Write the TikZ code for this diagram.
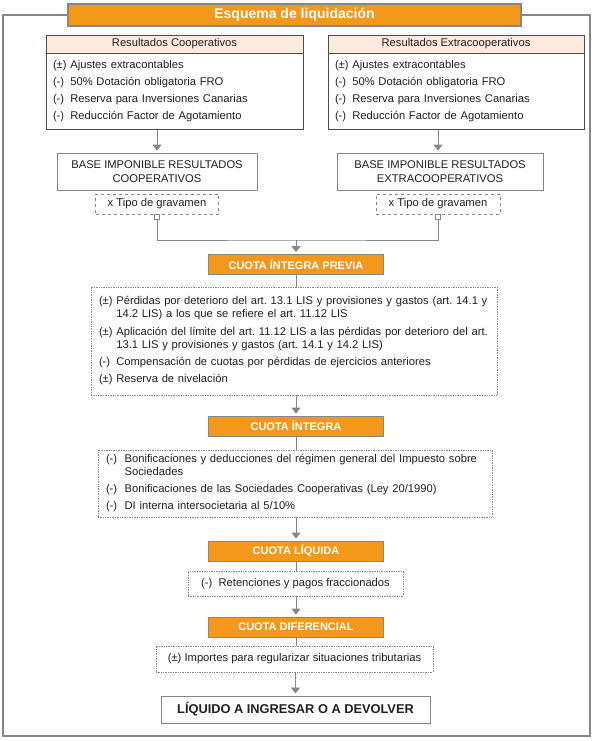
\documentclass[tikz,border=0pt]{standalone}
\usepackage{fontspec}
\setmainfont{Liberation Sans}
\usetikzlibrary{positioning,arrows.meta,calc}
\definecolor{naranja}{RGB}{243,152,26}
\definecolor{rosado}{RGB}{252,234,222}
\definecolor{gris}{RGB}{135,135,135}
\definecolor{tinta}{RGB}{35,31,32}
\frenchspacing
\begin{document}
\begin{tikzpicture}[x=1pt,y=1pt]
    \tikzstyle{every node}=[inner sep=0,text=tinta,font=\fontsize{11.2}{12.5}\selectfont]
    \tikzstyle{head}=[draw=tinta!80,fill=rosado,minimum height=18,line width=0.6]
    \tikzstyle{list}=[draw=tinta!80,line width=0.6,align=left,inner xsep=7,inner ysep=4,text width=243,minimum height=76]
    \tikzstyle{base}=[draw=gris,line width=0.7,align=center,minimum height=37,font=\fontsize{11.2}{14}\selectfont]
    \tikzstyle{rate}=[draw=gris,dashed,line width=0.6,minimum height=20]
    \tikzstyle{sq}=[draw=gris,fill=white,line width=0.6,minimum size=5]
    \tikzstyle{tab}=[draw=gris,line width=0.8,fill=naranja,text=white,minimum width=175,minimum height=20,font=\bfseries\fontsize{11}{12}\selectfont]
    \tikzstyle{dots}=[draw=gris,densely dotted,line width=0.7,align=left]
    \tikzstyle{final}=[draw=gris,line width=1,minimum width=269,minimum height=27,font=\bfseries\fontsize{12.8}{14}\selectfont]
    \tikzstyle{line}=[draw=gris,line width=0.8]
    \tikzstyle{arr}=[line,-{Triangle[width=9,length=6]},shorten >=2]
    \useasboundingbox (0,0) rectangle (594,-741);

    % marco y titulo
    \draw[gris,line width=1.4] (3,-15) rectangle (590,-736);
    \node[draw=gris,line width=1.6,fill=naranja,text=white,minimum width=453,minimum height=22,
          font=\bfseries\fontsize{14}{15}\selectfont] (title) at (294.5,-15) {Esquema de liquidación};

    % resultados
    \node[head,minimum width=257] (rch) at (174.5,-44) {Resultados Cooperativos};
    \node[list,below=0 of rch] (rcb) {%
        \begin{tabular}{@{}l@{\ }l@{}}
        (±) & Ajustes extracontables\\[4.5pt]
        (-) & 50\% Dotación obligatoria FRO\\[4.5pt]
        (-) & Reserva para Inversiones Canarias\\[4.5pt]
        (-) & Reducción Factor de Agotamiento
        \end{tabular}};
    \node[head,minimum width=256] (reh) at (456,-44) {Resultados Extracooperativos};
    \node[list,below=0 of reh,text width=242] (reb) {%
        \begin{tabular}{@{}l@{\ }l@{}}
        (±) & Ajustes extracontables\\[4.5pt]
        (-) & 50\% Dotación obligatoria FRO\\[4.5pt]
        (-) & Reserva para Inversiones Canarias\\[4.5pt]
        (-) & Reducción Factor de Agotamiento
        \end{tabular}};

    % bases imponibles
    \node[base,minimum width=200] (bic) at (157,-171.5) {BASE IMPONIBLE RESULTADOS\\COOPERATIVOS};
    \node[base,minimum width=206] (bie) at (440,-171.5) {BASE IMPONIBLE RESULTADOS\\EXTRACOOPERATIVOS};
    \node[rate,minimum width=123] (tgc) at (157,-204) {x Tipo de gravamen};
    \node[rate,minimum width=124] (tge) at (438,-204) {x Tipo de gravamen};
    \node[sq,below=0 of tgc] (sqc) {};
    \node[sq,below=0 of tge] (sqe) {};
    \coordinate (merge) at (296,-240);

    % columna central
    \node[tab] (cip) at (296,-264.5) {CUOTA ÍNTEGRA PREVIA};
    \node[dots,minimum width=406,minimum height=108,text width=390,inner xsep=8] (ajc) at (294,-341) {%
        \begin{tabular}{@{}l@{\ }l@{}}
        (±) & Pérdidas por deterioro del art. 13.1 LIS y provisiones y gastos (art. 14.1 y\\
            & 14.2 LIS) a los que se refiere el art. 11.12 LIS\\[6pt]
        (±) & Aplicación del límite del art. 11.12 LIS a las pérdidas por deterioro del art.\\
            & 13.1 LIS y provisiones y gastos (art. 14.1 y 14.2 LIS)\\[5pt]
        (-) & Compensación de cuotas por pérdidas de ejercicios anteriores\\[4pt]
        (±) & Reserva de nivelación
        \end{tabular}};
    \node[tab] (ci) at (296,-426) {CUOTA ÍNTEGRA};
    \node[dots,minimum width=394,minimum height=67,text width=378,inner xsep=8] (bon) at (295,-483.5) {%
        \raisebox{-3pt}{\begin{tabular}{@{}l@{\ \ }l@{}}
        (-) & Bonificaciones y deducciones del régimen general del Impuesto sobre\\
            & Sociedades\\[4.5pt]
        (-) & Bonificaciones de las Sociedades Cooperativas (Ley 20/1990)\\[4.5pt]
        (-) & DI interna intersocietaria al 5/10\%
        \end{tabular}}};
    \node[tab] (cl) at (296,-551) {CUOTA LÍQUIDA};
    \node[dots,minimum width=215,minimum height=25] (ret) at (295.5,-583.5) {(-)\ \ Retenciones y pagos fraccionados};
    \node[tab] (cd) at (296,-627) {CUOTA DIFERENCIAL};
    \node[dots,minimum width=277,minimum height=26] (imp) at (294.5,-659) {(±) Importes para regularizar situaciones tributarias};
    \node[final] (liq) at (295.5,-709.5) {LÍQUIDO A INGRESAR O A DEVOLVER};

    % conectores
    \draw[arr] (rcb.south -| tgc) -- (bic.north -| tgc);
    \draw[arr] (reb.south -| tge) -- (bie.north -| tge);
    \draw[line] (sqc.south) |- (merge) -| (sqe.south);
    \draw[arr] (merge) -- (cip.north);
    \draw[line] (cip.south) -- (cip.south |- ajc.north);
    \draw[arr] (ajc.south -| ci) -- (ci.north);
    \draw[line] (ci.south) -- (ci.south |- bon.north);
    \draw[arr] (bon.south -| cl) -- (cl.north);
    \draw[line] (cl.south) -- (cl.south |- ret.north);
    \draw[arr] (ret.south -| cd) -- (cd.north);
    \draw[line] (cd.south) -- (cd.south |- imp.north);
    \draw[arr] (imp.south -| liq) -- (liq.north);
\end{tikzpicture}
\end{document}
